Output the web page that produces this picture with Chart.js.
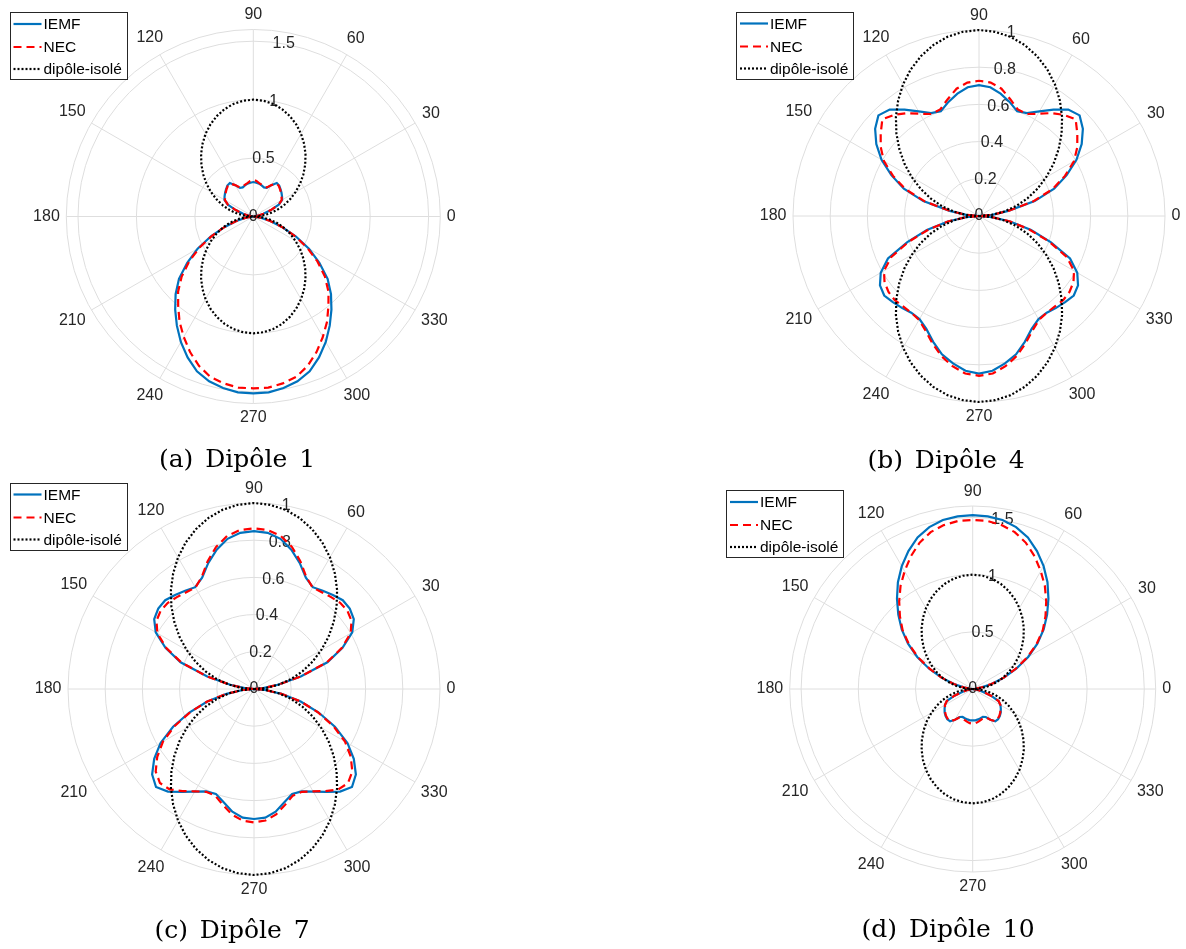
<!DOCTYPE html>
<html>
<head>
<meta charset="utf-8">
<script src="https://cdn.jsdelivr.net/npm/chart.js@4"></script>
<style>
  body { margin: 0; background: #fff; }
  #page { position: relative; width: 1186px; height: 949px; overflow: hidden; }
  .panel { position: absolute; width: 593px; height: 475px; }
  .cap {
    position: absolute; transform: translate(-50%, -50%); white-space: nowrap;
    font-family: "DejaVu Serif", serif; font-size: 25px; word-spacing: 4px; color: #000;
  }
</style>
</head>
<body>
<div id="page">
  <div class="panel" style="left:0;top:0"><canvas id="chartA"></canvas></div>
  <div class="panel" style="left:593px;top:0"><canvas id="chartB"></canvas></div>
  <div class="panel" style="left:0;top:474px"><canvas id="chartC"></canvas></div>
  <div class="panel" style="left:593px;top:474px"><canvas id="chartD"></canvas></div>
  <div class="cap" style="left:237px;top:458px">(a) Dipôle 1</div>
  <div class="cap" style="left:946px;top:459px">(b) Dipôle 4</div>
  <div class="cap" style="left:232px;top:929px">(c) Dipôle 7</div>
  <div class="cap" style="left:948px;top:928px">(d) Dipôle 10</div>
</div>
<script>
// angles in degrees, 0..355 every 5 deg
const thetaDeg = Array.from({ length: 72 }, (_, i) => i * 5);
const angleTicks = [0, 30, 60, 90, 120, 150, 180, 210, 240, 270, 300, 330];
const seriesNames = ["IEMF", "NEC", "dipôle-isolé"];

const rTicksWide = [0, 0.5, 1, 1.5];
const rMaxWide = 1.6;
const rTicksUnit = [0, 0.2, 0.4, 0.6, 0.8, 1];
const rMaxUnit = 1;

// each row = 18 angles: 0-85, 90-175, 180-265, 270-355
const dipole = [
  0, 0.069, 0.137, 0.207, 0.277, 0.347, 0.417, 0.489, 0.559, 0.628, 0.695, 0.758, 0.817, 0.869, 0.914, 0.951, 0.978, 0.994,
  1, 0.994, 0.978, 0.951, 0.914, 0.869, 0.817, 0.758, 0.695, 0.628, 0.559, 0.489, 0.417, 0.347, 0.277, 0.207, 0.137, 0.069,
  0, 0.069, 0.137, 0.207, 0.277, 0.347, 0.417, 0.489, 0.559, 0.628, 0.695, 0.758, 0.817, 0.869, 0.914, 0.951, 0.978, 0.994,
  1, 0.994, 0.978, 0.951, 0.914, 0.869, 0.817, 0.758, 0.695, 0.628, 0.559, 0.489, 0.417, 0.347, 0.277, 0.207, 0.137, 0.069
];

const iemf1 = [
  0, 0.01, 0.04, 0.09, 0.16, 0.24, 0.285, 0.30, 0.315, 0.33, 0.345, 0.35, 0.31, 0.27, 0.265, 0.275, 0.285, 0.29,
  0.295, 0.29, 0.285, 0.275, 0.265, 0.27, 0.31, 0.35, 0.345, 0.33, 0.315, 0.30, 0.285, 0.24, 0.16, 0.09, 0.04, 0.01,
  0, 0.02, 0.07, 0.15, 0.26, 0.40, 0.55, 0.69, 0.83, 0.94, 1.04, 1.14, 1.24, 1.33, 1.41, 1.46, 1.49, 1.51,
  1.514, 1.51, 1.49, 1.46, 1.41, 1.33, 1.24, 1.14, 1.04, 0.94, 0.83, 0.69, 0.55, 0.40, 0.26, 0.15, 0.07, 0.02
];
const nec1 = [
  0, 0.01, 0.04, 0.09, 0.16, 0.24, 0.28, 0.295, 0.31, 0.325, 0.34, 0.345, 0.31, 0.275, 0.27, 0.28, 0.29, 0.305,
  0.315, 0.305, 0.29, 0.28, 0.27, 0.275, 0.31, 0.345, 0.34, 0.325, 0.31, 0.295, 0.28, 0.24, 0.16, 0.09, 0.04, 0.01,
  0, 0.02, 0.07, 0.15, 0.26, 0.39, 0.53, 0.67, 0.80, 0.91, 1.00, 1.10, 1.19, 1.28, 1.36, 1.42, 1.45, 1.47,
  1.47, 1.47, 1.45, 1.42, 1.36, 1.28, 1.19, 1.10, 1.00, 0.91, 0.80, 0.67, 0.53, 0.39, 0.26, 0.15, 0.07, 0.02
];

const iemf4 = [
  0, 0.07, 0.16, 0.31, 0.43, 0.52, 0.605, 0.674, 0.729, 0.765, 0.747, 0.698, 0.65, 0.61, 0.60, 0.635, 0.668, 0.695,
  0.704, 0.695, 0.668, 0.635, 0.60, 0.61, 0.65, 0.698, 0.747, 0.765, 0.729, 0.674, 0.605, 0.52, 0.43, 0.31, 0.16, 0.07,
  0, 0.07, 0.17, 0.29, 0.41, 0.54, 0.61, 0.65, 0.665, 0.655, 0.645, 0.635, 0.64, 0.67, 0.72, 0.77, 0.805, 0.835,
  0.847, 0.835, 0.805, 0.77, 0.72, 0.67, 0.64, 0.635, 0.645, 0.655, 0.665, 0.65, 0.61, 0.54, 0.41, 0.29, 0.17, 0.07
];
const nec4 = [
  0, 0.07, 0.16, 0.30, 0.42, 0.51, 0.59, 0.645, 0.69, 0.735, 0.71, 0.675, 0.635, 0.605, 0.61, 0.65, 0.695, 0.72,
  0.727, 0.72, 0.695, 0.65, 0.61, 0.605, 0.635, 0.675, 0.71, 0.735, 0.69, 0.645, 0.59, 0.51, 0.42, 0.30, 0.16, 0.07,
  0, 0.07, 0.17, 0.28, 0.40, 0.52, 0.59, 0.62, 0.635, 0.64, 0.635, 0.635, 0.645, 0.68, 0.73, 0.78, 0.82, 0.85,
  0.859, 0.85, 0.82, 0.78, 0.73, 0.68, 0.645, 0.635, 0.635, 0.64, 0.635, 0.62, 0.59, 0.52, 0.40, 0.28, 0.17, 0.07
];

const iemf7 = [
  0, 0.05, 0.13, 0.26, 0.42, 0.525, 0.61, 0.655, 0.672, 0.675, 0.66, 0.645, 0.632, 0.66, 0.72, 0.775, 0.82, 0.843,
  0.849, 0.843, 0.82, 0.775, 0.72, 0.66, 0.632, 0.645, 0.66, 0.675, 0.672, 0.655, 0.61, 0.525, 0.42, 0.26, 0.13, 0.05,
  0, 0.06, 0.15, 0.26, 0.37, 0.48, 0.58, 0.655, 0.715, 0.745, 0.72, 0.675, 0.637, 0.607, 0.60, 0.63, 0.67, 0.694,
  0.699, 0.694, 0.67, 0.63, 0.60, 0.607, 0.637, 0.675, 0.72, 0.745, 0.715, 0.655, 0.58, 0.48, 0.37, 0.26, 0.15, 0.06
];
const nec7 = [
  0, 0.05, 0.13, 0.26, 0.415, 0.52, 0.60, 0.64, 0.655, 0.655, 0.645, 0.635, 0.63, 0.665, 0.73, 0.79, 0.835, 0.858,
  0.864, 0.858, 0.835, 0.79, 0.73, 0.665, 0.63, 0.635, 0.645, 0.655, 0.655, 0.64, 0.60, 0.52, 0.415, 0.26, 0.13, 0.05,
  0, 0.06, 0.15, 0.26, 0.365, 0.47, 0.565, 0.635, 0.69, 0.715, 0.705, 0.67, 0.635, 0.61, 0.61, 0.645, 0.685, 0.71,
  0.717, 0.71, 0.685, 0.645, 0.61, 0.61, 0.635, 0.67, 0.705, 0.715, 0.69, 0.635, 0.565, 0.47, 0.365, 0.26, 0.15, 0.06
];

const iemf10 = [
  0, 0.02, 0.08, 0.17, 0.29, 0.42, 0.56, 0.69, 0.81, 0.92, 1.03, 1.14, 1.24, 1.33, 1.41, 1.465, 1.50, 1.515,
  1.52, 1.515, 1.50, 1.465, 1.41, 1.33, 1.24, 1.14, 1.03, 0.92, 0.81, 0.69, 0.56, 0.42, 0.29, 0.17, 0.08, 0.02,
  0, 0.01, 0.04, 0.09, 0.17, 0.25, 0.28, 0.30, 0.32, 0.335, 0.345, 0.345, 0.31, 0.27, 0.26, 0.265, 0.27, 0.275,
  0.275, 0.275, 0.27, 0.265, 0.26, 0.27, 0.31, 0.345, 0.345, 0.335, 0.32, 0.30, 0.28, 0.25, 0.17, 0.09, 0.04, 0.01
];
const nec10 = [
  0, 0.02, 0.08, 0.17, 0.29, 0.41, 0.55, 0.68, 0.80, 0.90, 1.00, 1.10, 1.19, 1.28, 1.36, 1.42, 1.455, 1.475,
  1.478, 1.475, 1.455, 1.42, 1.36, 1.28, 1.19, 1.10, 1.00, 0.90, 0.80, 0.68, 0.55, 0.41, 0.29, 0.17, 0.08, 0.02,
  0, 0.01, 0.04, 0.09, 0.17, 0.25, 0.28, 0.295, 0.315, 0.33, 0.34, 0.345, 0.31, 0.275, 0.27, 0.28, 0.29, 0.30,
  0.304, 0.30, 0.29, 0.28, 0.27, 0.275, 0.31, 0.345, 0.34, 0.33, 0.315, 0.295, 0.28, 0.25, 0.17, 0.09, 0.04, 0.01
];

const gridColor = "#dedede";
const textColor = "#262626";
const tickFont = '16px "Liberation Sans", Arial, sans-serif';
const legendFont = '15.5px "Liberation Sans", Arial, sans-serif';
const colors = ["#0072BD", "#FF0000", "#000000"];
const dashes = [[], [8, 5], [2, 2]];
const widths = [2.2, 2.2, 2.2];

// radar goes clockwise, polar angles go anticlockwise: flip order, keep 0 first
const toRadar = arr => arr.map((_, i) => arr[(arr.length - i) % arr.length]);

const decor = {
  id: "decor",
  beforeDatasetsDraw(chart, args, opts) {
    const s = chart.scales.r;
    const ctx = chart.ctx;
    ctx.save();
    ctx.font = tickFont;
    ctx.fillStyle = textColor;
    ctx.textAlign = "center";
    ctx.textBaseline = "middle";
    opts.rTicks.forEach(v => {
      const p = s.getPointPosition(0, s.getDistanceFromCenterForValue(v), -80 * Math.PI / 180);
      ctx.fillText(String(v), p.x, p.y);
    });
    angleTicks.forEach(a => {
      const t = String(a);
      const rad = a * Math.PI / 180;
      const ext = Math.abs(Math.cos(rad)) * ctx.measureText(t).width / 2 + Math.abs(Math.sin(rad)) * 8;
      const p = s.getPointPosition(0, s.drawingArea + 6.5 + ext, -rad);
      ctx.fillText(t, p.x, p.y);
    });
    ctx.restore();
  },
  afterDraw(chart, args, opts) {
    const ctx = chart.ctx;
    const { x, y } = opts.legend;
    const w = 117, h = 67;
    ctx.save();
    ctx.fillStyle = "#fff";
    ctx.fillRect(x, y, w, h);
    ctx.strokeStyle = textColor;
    ctx.lineWidth = 1;
    ctx.strokeRect(Math.round(x) + 0.5, Math.round(y) + 0.5, w, h);
    ctx.font = legendFont;
    ctx.textBaseline = "middle";
    ctx.textAlign = "left";
    [12, 35, 57].forEach((dy, i) => {
      ctx.beginPath();
      ctx.strokeStyle = colors[i];
      ctx.lineWidth = widths[i];
      ctx.setLineDash(dashes[i]);
      ctx.moveTo(x + 4, y + dy);
      ctx.lineTo(x + 32, y + dy);
      ctx.stroke();
      ctx.fillStyle = "#000";
      ctx.fillText(seriesNames[i], x + 34, y + dy + 1);
    });
    ctx.restore();
  }
};

function drawPanel(id, iemf, nec, rTicks, rMax, cx, cy, R, legend) {
  const series = [iemf, nec, dipole];
  new Chart(document.getElementById(id), {
    type: "radar",
    data: {
      labels: toRadar(thetaDeg),
      datasets: series.map((d, i) => ({
        label: seriesNames[i],
        data: toRadar(d),
        borderColor: colors[i],
        borderDash: dashes[i],
        borderWidth: widths[i],
        fill: false,
        pointRadius: 0,
        pointHoverRadius: 0,
        tension: 0,
        order: 2 - i,
      })),
    },
    options: {
      responsive: true,
      maintainAspectRatio: false,
      animation: false,
      events: [],
      plugins: {
        legend: { display: false },
        tooltip: { enabled: false },
        decor: { rTicks, legend },
      },
      scales: {
        r: {
          min: 0,
          max: rMax,
          startAngle: 90,
          ticks: { display: false },
          pointLabels: { display: false },
          grid: { circular: true, color: gridColor, lineWidth: 1 },
          angleLines: { color: gridColor, lineWidth: c => (c.index % 6 === 0 ? 1 : 0) },
          afterBuildTicks: s => {
            const vals = rTicks[rTicks.length - 1] < rMax ? rTicks.concat([rMax]) : rTicks;
            s.ticks = vals.map(v => ({ value: v }));
          },
          afterFit: s => {
            s.xCenter = cx;
            s.yCenter = cy;
            s.drawingArea = R;
          },
        },
      },
    },
    plugins: [decor],
  });
}

drawPanel("chartA", iemf1, nec1, rTicksWide, rMaxWide, 253.3, 216.5, 187, { x: 9.5, y: 12 });
drawPanel("chartB", iemf4, nec4, rTicksUnit, rMaxUnit, 386, 216, 186, { x: 143, y: 11.5 });
drawPanel("chartC", iemf7, nec7, rTicksUnit, rMaxUnit, 254, 215, 186, { x: 9.5, y: 8.5 });
drawPanel("chartD", iemf10, nec10, rTicksWide, rMaxWide, 379.7, 215, 183, { x: 133, y: 16 });
</script>
</body>
</html>
